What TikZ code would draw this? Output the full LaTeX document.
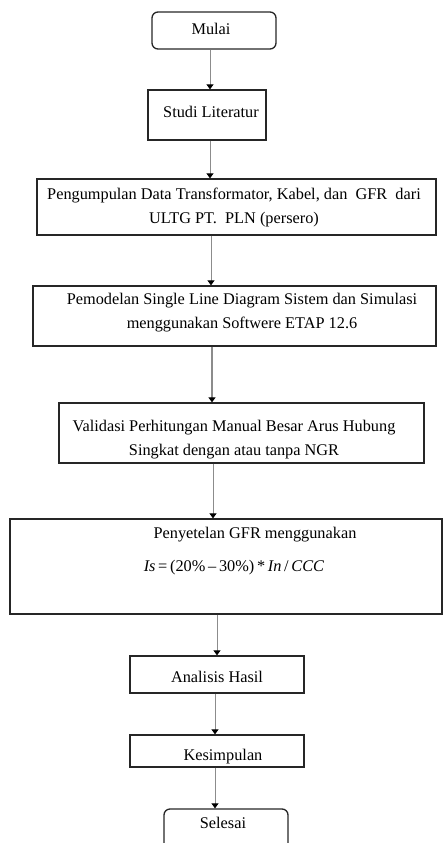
\documentclass[tikz,border=0pt]{standalone}
\usepackage{fontspec}
\setmainfont{Liberation Serif}
\usetikzlibrary{arrows.meta}
\tikzset{
  box/.style={draw=black!85, line width=1.3pt, minimum width=#1, inner sep=0pt},
  rbox/.style={box=#1, rounded corners=6pt},
  txt/.style={font=\fontsize{16.3}{24}\selectfont, align=center, inner sep=0pt},
  arr/.style={draw=black!45, line width=0.9pt, -{Triangle[length=5pt,width=7pt,color=black]}},
  arrb/.style={draw=black!45, line width=2pt, -{Triangle[length=5pt,width=7pt,color=black]}}
}
\begin{document}
\begin{tikzpicture}[x=1pt,y=-1pt]
\clip (0,0) rectangle (443,843);
% boxes
\node[rbox=124pt, minimum height=37pt] (mulai) at (214,30.5) {};
\node[box=118pt, minimum height=50pt] (studi) at (207,115) {};
\node[box=399pt, minimum height=56pt] (data) at (236.5,207) {};
\node[box=403pt, minimum height=60pt] (model) at (234.5,316) {};
\node[box=365pt, minimum height=60pt] (valid) at (241.5,433) {};
\node[box=432pt, minimum height=95pt] (setel) at (226,566.5) {};
\node[box=174pt, minimum height=37pt] (analisis) at (217,674.5) {};
\node[box=174pt, minimum height=32pt] (simpul) at (217,751) {};
\node[rbox=124pt, minimum height=46pt] (selesai) at (226,832) {};
% texts
\node[txt] (tmulai) at (211,29) {Mulai};
\node[txt] (tstudi) at (211,112) {Studi Literatur};
\node[txt] (tdata) at (234,207) {Pengumpulan Data Transformator, Kabel, dan \ GFR \ dari\\ULTG PT. \ PLN (persero)};
\node[txt] (tmodel) at (242,313) {Pemodelan Single Line Diagram Sistem dan Simulasi\\menggunakan Softwere ETAP 12.6};
\node[txt] (tvalid) at (234,440) {Validasi Perhitungan Manual Besar Arus Hubung\\Singkat dengan atau tanpa NGR};
\node[txt] (tsetel) at (255,535) {Penyetelan GFR menggunakan};
\node[txt] (tform) at (234,568) {\textit{Is}\,=\,(20\%\,\textendash\,30\%)\,*\,\textit{In}\,/\,\textit{CCC}};
\node[txt] (tanal) at (217,677) {Analisis Hasil};
\node[txt] (tsimp) at (223,757) {Kesimpulan};
\node[txt] (tsel) at (223,823) {Selesai};
% connectors
\draw[arr] (mulai.south -| 210,0) -- (studi.north -| 210,0);
\draw[arr] (studi.south -| 210,0) -- (data.north -| 210,0);
\draw[arr] (data.south -| 211,0) -- (model.north -| 211,0);
\draw[arrb] (model.south -| 212,0) -- (valid.north -| 212,0);
\draw[arr] (valid.south -| 213,0) -- (setel.north -| 213,0);
\draw[arr] (setel.south -| 217,0) -- (analisis.north -| 217,0);
\draw[arr] (analisis.south -| 215,0) -- (simpul.north -| 215,0);
\draw[arr] (simpul.south -| 215,0) -- (selesai.north -| 215,0);
\end{tikzpicture}
\end{document}
